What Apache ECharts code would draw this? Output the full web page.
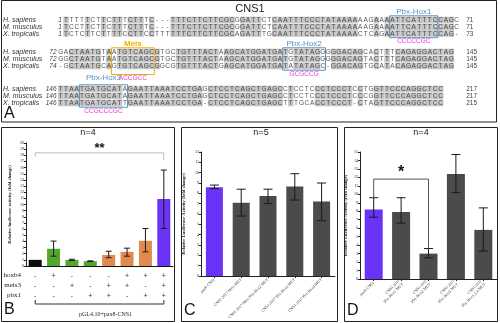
<!DOCTYPE html>
<html><head><meta charset="utf-8">
<script src="https://cdn.jsdelivr.net/npm/echarts@6/dist/echarts.min.js"></script>
<style>html,body{margin:0;padding:0;background:#fff}#c{width:500px;height:323px}</style>
</head><body><div id="c"></div>
<script>
// ---------------- Panel A: alignment data ----------------
const speciesNames = ['H. sapiens', 'M. musculus', 'X. tropicalis'];
const block1Seq = [
  'TTTTTCTTCTTTCTTTC---TTTCTTCTTCGCGGATTCTCAATTTCCCTATAAAAAAGAAAATTCATTTCCAGC',
  'TCCTTCTTCTTTCTTTC---TTTCTTCTTCGCGGATTCTCAATTTCCCTATAAAAAAGAAAATTCATTTCCAGC',
  'TCTCTTCTTTTCCTTCCTTTTTTCTTCTTCGCAGATTTGCAATTTCCCTATAAAACTCAGAATTCATTTCCAG-'
];
const block1Start = ['1', '1', '1'];
const block1End = ['71', '71', '73'];
const block2Seq = [
  'GACTAATGTAATGTCAGCGTGCTGTTTACTAAGCATGGATGATGTATAGGGGGACAGCACTTTCAGAGGACTAG',
  'GGCTAATGTAATGTCAGCGTGCTGTTTACTAAGCATGGATGATGTATAGGGGGACAGTACTTTCAGAGGACTAG',
  '-GCTAATGCAGTGTCAGCGGCGTGTTTACTGAGCATGGATGATATATAGC-GGACAGTGCATACAGAGGACTAG'
];
const block2Start = ['72', '72', '74'];
const block2End = ['145', '145', '145'];
const block3Seq = [
  'TTAATGATGCATAGAATTAAATCCTGAGCTCCTCAGCTGAGCCTCCTCCCTCCCTCCTGGTTCCCAGGCTCC',
  'TTAATGATGCATAGAATTAAATCCTGAGCTCCTCAGCTGAGCCTCCTCCCTCCCTCCCGGTTCCCAGGCTCC',
  'TTAATGATGCATTGAATTAAATCCTGA-CTCCTCAGCTGAGCTTTGCACCTCCCT-CTAGTTCCCAGGCTCC'
];
const block3Start = ['146', '146', '146'];
const block3End = ['217', '217', '215'];
// motif boxes: name, block, first column, last column, site text
const motifNames = ['Pbx-Hox1', 'Meis', 'Pbx-Hox2', 'Pbx-Hox3'];
const motifBlock = [0, 1, 1, 2];
const motifFrom = [62, 10, 42, 4];
const motifTo = [70, 17, 49, 12];
const motifSite = ['CCCCCGC', 'ACCGCC', 'GCGCCG', 'CCGCCCGC'];

// ---------------- Panel B data ----------------
const bCats = ['c1', 'c2', 'c3', 'c4', 'c5', 'c6', 'c7', 'c8'];
const bValues = [1.0, 2.8, 1.0, 0.78, 1.8, 2.3, 4.1, 10.9];
const bLow = [null, 1.6, 0.9, 0.72, 1.35, 1.6, 2.3, 6.1];
const bHigh = [null, 4.05, 1.1, 0.84, 2.4, 2.9, 6.1, 15.6];
const hoxb4 = ['-', '+', '-', '-', '-', '+', '+', '+'];
const meis3 = ['-', '-', '+', '-', '+', '+', '-', '+'];
const pbx1 = ['-', '-', '-', '+', '+', '-', '+', '+'];
const bSig = '**';

// ---------------- Panel C data ----------------
const cCats = ['pax8-CNS1', 'CNS1 2017 Meis MUT', 'CNS1 2017 Meis Pbx-Hox2 MUT', 'CNS1 2017 Pbx-Hox2 MUT', 'CNS1 2017 Pbx-Hox3 MUT'];
const cValues = [8.6, 7.1, 7.75, 8.65, 7.2];
const cLow = [8.45, 5.8, 7.0, 7.35, 5.35];
const cHigh = [8.8, 8.4, 8.4, 9.9, 9.0];

// ---------------- Panel D data ----------------
const dCats = ['pax8-CNS1', 'CNS1 2017\nPbx-Hox1 MUT', 'CNS1 2017\nPbx-Hox2 MUT', 'CNS1 2017\nPbx-Hox3 MUT', 'CNS1 2017\nPbx-Hox1,2,3 MUT'];
const dValues = [8.2, 7.9, 3.0, 12.4, 5.8];
const dLow = [7.3, 6.6, 2.5, 10.2, 3.3];
const dHigh = [9.6, 9.6, 3.6, 14.7, 8.4];
const dSig = '*';

// ---------------- styling / layout ----------------
const blockRows = [[20, 27, 33.5], [52, 59, 66], [89, 96, 103]];
const blockShift = [1, 0, 0];
const motifPadTop = [4.2, 4.2, 4.2, 4.2];
const motifPadBottom = [4.2, 8.5, 4.2, 4.2];
const motifLabelShift = [0, 0, 0, -3];
const blocks = [block1Seq, block2Seq, block3Seq];
const blockStarts = [block1Start, block2Start, block3Start];
const blockEnds = [block1End, block2End, block3End];

const cells = [];
blocks.forEach((seqs, bi) => {
  const n = Math.max(...seqs.map(s => s.length));
  for (let k = 0; k < n; k++) {
    const chars = seqs.map(s => s[k] || ' ');
    const cons = chars.every(ch => ch === chars[0] && ch !== '-' && ch !== ' ');
    chars.forEach((ch, r) => {
      cells.push({ kind: 'cell', col: k + blockShift[bi], y: blockRows[bi][r], ch: ch, cons: cons });
    });
  }
  seqs.forEach((s, r) => {
    cells.push({ kind: 'start', col: blockShift[bi], y: blockRows[bi][r], ch: blockStarts[bi][r] });
    cells.push({ kind: 'end', col: 76.3, y: blockRows[bi][r], ch: blockEnds[bi][r] });
  });
});
motifNames.forEach((m, i) => {
  cells.push({ kind: 'motif', idx: i, col: motifFrom[i], col2: motifTo[i], y: blockRows[motifBlock[i]][0], y2: blockRows[motifBlock[i]][2], ch: m, site: motifSite[i] });
});

const SERIF = 'Liberation Serif';
const SANS = 'Liberation Sans';

function errSeries(xi, yi, cats, lo, hi, cap) {
  const data = [];
  cats.forEach((c, i) => { if (lo[i] != null) data.push([i, lo[i], hi[i]]); });
  return {
    type: 'custom', xAxisIndex: xi, yAxisIndex: yi, silent: true, z: 5,
    data: data,
    renderItem: (p, api) => {
      const a = api.coord([api.value(0), api.value(1)]);
      const b = api.coord([api.value(0), api.value(2)]);
      const st = { stroke: '#1a1a1a', lineWidth: 1 };
      return { type: 'group', children: [
        { type: 'line', shape: { x1: a[0], y1: a[1], x2: b[0], y2: b[1] }, style: st },
        { type: 'line', shape: { x1: a[0] - cap, y1: a[1], x2: a[0] + cap, y2: a[1] }, style: st },
        { type: 'line', shape: { x1: b[0] - cap, y1: b[1], x2: b[0] + cap, y2: b[1] }, style: st }
      ] };
    }
  };
}

function bracketSeries(xi, yi, from, to, level, dropFrom, dropTo, label, color, fs) {
  return {
    type: 'custom', xAxisIndex: xi, yAxisIndex: yi, silent: true, clip: false, z: 6,
    data: [[from, to, level, dropFrom, dropTo]],
    renderItem: (p, api) => {
      const l = api.coord([api.value(0), api.value(2)]);
      const r = api.coord([api.value(1), api.value(2)]);
      const ld = api.coord([api.value(0), api.value(3)]);
      const rd = api.coord([api.value(1), api.value(4)]);
      const st = { stroke: color, lineWidth: 1 };
      return { type: 'group', children: [
        { type: 'line', shape: { x1: l[0], y1: l[1], x2: r[0], y2: r[1] }, style: st },
        { type: 'line', shape: { x1: l[0], y1: l[1], x2: ld[0], y2: ld[1] }, style: st },
        { type: 'line', shape: { x1: r[0], y1: r[1], x2: rd[0], y2: rd[1] }, style: st },
        { type: 'text', style: { text: label, x: (l[0] + r[0]) / 2, y: l[1] + 2, align: 'center', verticalAlign: 'bottom', fill: '#111', font: 'bold ' + fs + 'px ' + SANS } }
      ] };
    }
  };
}

function yAxisCfg(gi, max, name, gap) {
  return {
    type: 'value', gridIndex: gi, min: 0, max: max, interval: 1,
    name: name, nameLocation: 'middle', nameGap: gap, nameRotate: 90,
    nameTextStyle: { fontSize: 4.6, fontFamily: SERIF, fontWeight: 'bold', color: '#222' },
    axisLine: { show: true, lineStyle: { color: '#222', width: 1 } },
    axisTick: { show: true, length: 2, lineStyle: { color: '#222' } },
    axisLabel: { fontSize: 4, fontFamily: SERIF, color: '#222', margin: 2 },
    splitLine: { show: false }
  };
}

const signAxis = (arr, off, nm) => ({
  type: 'category', gridIndex: 1, data: bCats, position: 'bottom', offset: off,
  axisLine: { show: false }, axisTick: { show: false },
  axisLabel: { interval: 0, margin: 0, fontSize: 7, fontFamily: SANS, color: '#333', formatter: (v, i) => arr[i] },
  name: nm, nameLocation: 'start', nameGap: 5,
  nameTextStyle: { fontSize: 7, fontFamily: SERIF, color: '#222', verticalAlign: 'top', padding: [-1, 0, 0, 0] }
});

const catAxis = (gi, cats) => ({
  type: 'category', gridIndex: gi, data: cats,
  axisLine: { show: true, lineStyle: { color: '#222', width: 1 } },
  axisTick: { show: true, alignWithLabel: true, length: 2, lineStyle: { color: '#222' } },
  axisLabel: { interval: 0, rotate: 45, fontSize: 4, fontFamily: SERIF, color: '#333', margin: 3, lineHeight: 5 }
});

const option = {
  animation: false,
  backgroundColor: '#fff',
  grid: [
    { left: 58, top: 0, width: 75 * 5.35, height: 122 },
    { left: 26, top: 143, width: 147, height: 123 },
    { left: 201, top: 152, width: 134, height: 124 },
    { left: 360, top: 152, width: 137, height: 127 }
  ],
  xAxis: [
    { type: 'value', gridIndex: 0, min: 0, max: 75, show: false },
    { type: 'category', gridIndex: 1, data: bCats,
      axisLine: { show: true, lineStyle: { color: '#111', width: 1 } }, axisTick: { show: false }, axisLabel: { show: false } },
    signAxis(hoxb4, 7, 'hoxb4'),
    signAxis(meis3, 17, 'meis3'),
    signAxis(pbx1, 27, 'pbx1'),
    catAxis(2, cCats),
    catAxis(3, dCats)
  ],
  yAxis: [
    { type: 'value', gridIndex: 0, min: 0, max: 122, inverse: true, show: false },
    yAxisCfg(1, 20, 'Relative luciferase activity (fold change)', 14),
    yAxisCfg(2, 12, 'Relative Luciferase Activity (fold change)', 15),
    yAxisCfg(3, 15, 'Relative Luciferase Activity (fold change)', 12)
  ],
  series: [
    {
      type: 'custom', xAxisIndex: 0, yAxisIndex: 0, silent: true, clip: false,
      data: cells.map(c => [c.col, c.y]),
      renderItem: (p, api) => {
        const c = cells[p.dataIndex];
        const w = api.size([1, 0])[0];
        if (c.kind === 'cell') {
          const pt = api.coord([c.col + 0.5, c.y]);
          const ch = [];
          if (c.cons) ch.push({ type: 'rect', shape: { x: pt[0] - w / 2, y: pt[1] - 3.3, width: w + 0.2, height: 6.6 }, style: { fill: '#c6c6c6' } });
          ch.push({ type: 'text', style: { text: c.ch, x: pt[0], y: pt[1] + 0.3, align: 'center', verticalAlign: 'middle', fill: c.cons ? '#4a4a4a' : '#555', font: '6.5px ' + SANS } });
          return { type: 'group', children: ch };
        }
        if (c.kind === 'start') {
          const pt = api.coord([c.col, c.y]);
          return { type: 'text', style: { text: c.ch, x: pt[0] - 1.5, y: pt[1] + 0.3, align: 'right', verticalAlign: 'middle', fill: '#444', font: 'italic 6.5px ' + SANS } };
        }
        if (c.kind === 'end') {
          const pt = api.coord([c.col, c.y]);
          return { type: 'text', style: { text: c.ch, x: pt[0], y: pt[1] + 0.3, align: 'left', verticalAlign: 'middle', fill: '#444', font: '6.5px ' + SANS } };
        }
        // motif box
        const a = api.coord([c.col, c.y]);
        const b = api.coord([c.col2 + 1, c.y2]);
        const isMeis = c.ch === 'Meis';
        const col = isMeis ? '#f0b000' : '#5c90bd';
        const pt = motifPadTop[c.idx], pb = motifPadBottom[c.idx];
        return { type: 'group', children: [
          { type: 'rect', shape: { x: a[0], y: a[1] - pt, width: b[0] - a[0], height: b[1] - a[1] + pt + pb }, style: { fill: 'none', stroke: col, lineWidth: 1 } },
          { type: 'text', style: { text: c.ch, x: (a[0] + b[0]) / 2, y: a[1] - pt - 0.3 + motifLabelShift[c.idx], align: 'center', verticalAlign: 'bottom', fill: col, font: (isMeis ? 'bold ' : '') + '8px ' + SANS } },
          { type: 'text', style: { text: c.site, x: (a[0] + b[0]) / 2, y: b[1] + pb + 0.4, align: 'center', verticalAlign: 'top', fill: '#e03ccf', font: '6.5px ' + SANS } }
        ] };
      }
    },
    {
      type: 'bar', xAxisIndex: 1, yAxisIndex: 1, barWidth: 13, silent: true,
      data: bValues.map((v, i) => ({ value: v, itemStyle: { color: ['#0d0d0d', '#52a82c', '#52a82c', '#52a82c', '#e08a4e', '#e08a4e', '#e08a4e', '#6a33f5'][i] } }))
    },
    errSeries(1, 1, bCats, bLow, bHigh, 3),
    bracketSeries(1, 1, 0, 7, 18.4, 17.8, 17.2, bSig, '#bbbbbb', 13),
    {
      type: 'custom', xAxisIndex: 1, yAxisIndex: 1, silent: true, clip: false,
      data: [[0, 7, 0]],
      renderItem: (p, api) => {
        const l = api.coord([api.value(0), api.value(2)]);
        const r = api.coord([api.value(1), api.value(2)]);
        const y = l[1] + 38;
        const st = { stroke: '#333', lineWidth: 1 };
        return { type: 'group', children: [
          { type: 'line', shape: { x1: l[0], y1: y, x2: r[0], y2: y }, style: st },
          { type: 'line', shape: { x1: l[0], y1: y, x2: l[0], y2: y - 4 }, style: st },
          { type: 'line', shape: { x1: r[0], y1: y, x2: r[0], y2: y - 4 }, style: st },
          { type: 'text', style: { text: 'pGL4.10+pax8-CNS1', x: (l[0] + r[0]) / 2 + 6, y: y + 10, align: 'center', verticalAlign: 'middle', fill: '#222', font: '6px ' + SERIF } }
        ] };
      }
    },
    {
      type: 'bar', xAxisIndex: 5, yAxisIndex: 2, barWidth: 17, silent: true,
      data: cValues.map((v, i) => ({ value: v, itemStyle: { color: i === 0 ? '#6a33f5' : '#4b4b4b' } }))
    },
    errSeries(5, 2, cCats, cLow, cHigh, 4.5),
    {
      type: 'bar', xAxisIndex: 6, yAxisIndex: 3, barWidth: 18, silent: true,
      data: dValues.map((v, i) => ({ value: v, itemStyle: { color: i === 0 ? '#6a33f5' : '#4b4b4b' } }))
    },
    errSeries(6, 3, dCats, dLow, dHigh, 4.5),
    bracketSeries(6, 3, 0, 2, 11.8, 9.6, 3.6, dSig, '#555555', 16)
  ],
  graphic: [
    { type: 'rect', shape: { x: 1.5, y: 0.5, width: 495, height: 121.5 }, style: { fill: 'none', stroke: '#222', lineWidth: 1 }, silent: true },
    { type: 'rect', shape: { x: 1.5, y: 127.5, width: 173, height: 194 }, style: { fill: 'none', stroke: '#222', lineWidth: 1 }, silent: true },
    { type: 'rect', shape: { x: 181.5, y: 127.5, width: 156, height: 194 }, style: { fill: 'none', stroke: '#222', lineWidth: 1 }, silent: true },
    { type: 'rect', shape: { x: 344.5, y: 127.5, width: 153, height: 194 }, style: { fill: 'none', stroke: '#222', lineWidth: 1 }, silent: true },
    { type: 'text', x: 250, y: 9, style: { text: 'CNS1', font: '11px ' + SANS, fill: '#222', align: 'center', verticalAlign: 'middle' } },
    ...blockRows.flatMap(rows => rows.map((y, r) => ({ type: 'text', x: 3, y: y + 0.3, style: { text: speciesNames[r], font: 'italic 7px ' + SANS, fill: '#333', verticalAlign: 'middle' } }))),
    { type: 'text', x: 4, y: 106, style: { text: 'A', font: '16px ' + SANS, fill: '#111' } },
    { type: 'text', x: 4, y: 302, style: { text: 'B', font: '16px ' + SANS, fill: '#111' } },
    { type: 'text', x: 184, y: 303, style: { text: 'C', font: '16px ' + SANS, fill: '#111' } },
    { type: 'text', x: 347, y: 303, style: { text: 'D', font: '16px ' + SANS, fill: '#111' } },
    { type: 'text', x: 88, y: 133, style: { text: 'n=4', font: '9px ' + SANS, fill: '#222', align: 'center', verticalAlign: 'middle' } },
    { type: 'text', x: 261, y: 133, style: { text: 'n=5', font: '9px ' + SANS, fill: '#222', align: 'center', verticalAlign: 'middle' } },
    { type: 'text', x: 421, y: 133, style: { text: 'n=4', font: '9px ' + SANS, fill: '#222', align: 'center', verticalAlign: 'middle' } }
  ]
};

const chart = echarts.init(document.getElementById('c'));
chart.setOption(option);
</script>
</body></html>
